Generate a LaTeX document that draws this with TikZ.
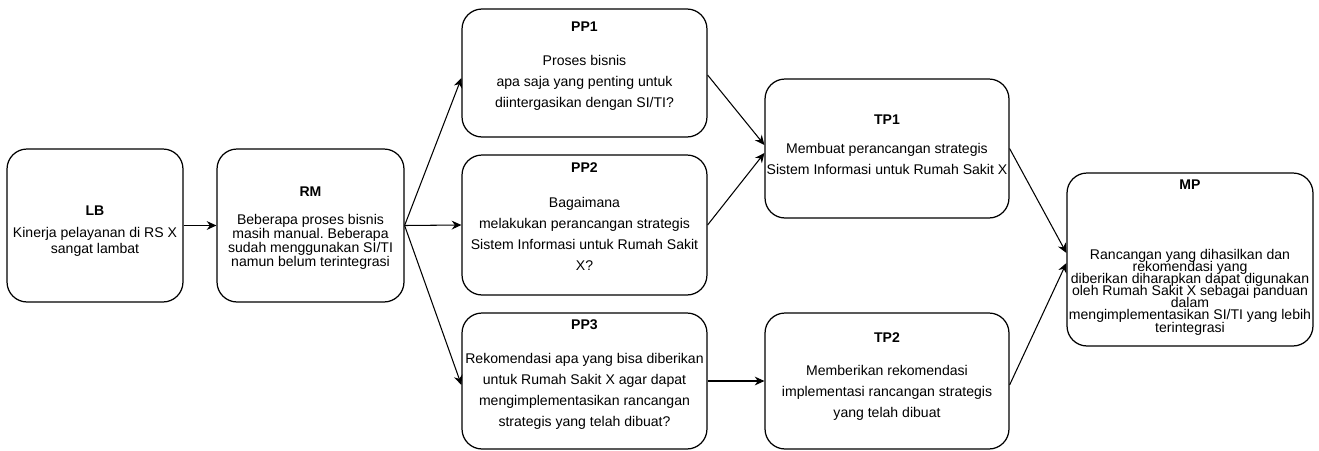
\documentclass[tikz,border=0pt]{standalone}
\usepackage{fontspec}
\setmainfont{Liberation Sans}
\usetikzlibrary{arrows.meta}
\frenchspacing
\setlength{\lineskiplimit}{-20pt}

\begin{document}
\begin{tikzpicture}[x=0.02cm,y=-0.02cm,
        box/.style={draw, line width=0.7pt, rounded corners=0.4cm, inner sep=0pt},
        title/.style={font=\fontsize{8}{9.6}\selectfont\bfseries},
        txt/.style={align=center, inner sep=0pt, font=\fontsize{8}{11.9}\selectfont},
        arr/.style={-{Stealth[length=5.5pt,width=5pt]}, line width=0.6pt}]
        \useasboundingbox (0,0) rectangle (1319,450);

        % Draw the boxes
        \node[box, minimum width=3.52cm, minimum height=3.06cm] (lb) at (95,225.5) {};
        \node[box, minimum width=3.74cm, minimum height=3.06cm] (rm) at (310.5,225.5) {};
        \node[box, minimum width=4.9cm, minimum height=2.56cm] (pp1) at (584.5,73) {};
        \node[box, minimum width=4.9cm, minimum height=2.8cm] (pp2) at (584.5,225) {};
        \node[box, minimum width=4.9cm, minimum height=2.72cm] (pp3) at (584.5,381) {};
        \node[box, minimum width=4.88cm, minimum height=2.78cm] (tp1) at (887,148.5) {};
        \node[box, minimum width=4.88cm, minimum height=2.72cm] (tp2) at (887,381) {};
        \node[box, minimum width=4.92cm, minimum height=3.46cm] (mp) at (1190,259.5) {};

        % Titles
        \node[title] (lbT) at (95,211) {LB};
        \node[title] (rmT) at (310.5,192) {RM};
        \node[title] (pp1T) at (584.5,27) {PP1};
        \node[title] (pp2T) at (584.5,168) {PP2};
        \node[title] (pp3T) at (584.5,325) {PP3};
        \node[title] (tp1T) at (887,120) {TP1};
        \node[title] (tp2T) at (887,338) {TP2};
        \node[title] (mpT) at (1190,185) {MP};

        % Texts inside the boxes
        \node[txt, font=\fontsize{8}{8.9}\selectfont] (lbX) at (95,242) {Kinerja pelayanan di RS X\\sangat lambat};
        \node[txt, font=\fontsize{8}{8.1}\selectfont] (rmX) at (310.5,242) {Beberapa proses bisnis\\masih manual. Beberapa\\sudah menggunakan SI/TI\\namun belum terintegrasi};
        \node[txt] (pp1X) at (584.5,82.5) {Proses bisnis\\apa saja yang penting untuk\\diintergasikan dengan SI/TI?};
        \node[txt] (pp2X) at (584.5,234) {Bagaimana\\melakukan perancangan strategis\\Sistem Informasi untuk Rumah Sakit\\X?};
        \node[txt] (pp3X) at (584.5,391.5) {Rekomendasi apa yang bisa diberikan\\untuk Rumah Sakit X agar dapat\\mengimplementasikan rancangan\\strategis yang telah dibuat?};
        \node[txt] (tp1X) at (887,159) {Membuat perancangan strategis\\Sistem Informasi untuk Rumah Sakit X};
        \node[txt] (tp2X) at (887,393) {Memberikan rekomendasi\\implementasi rancangan strategis\\yang telah dibuat};
        \node[txt, font=\fontsize{8}{6.9}\selectfont] (mpX) at (1190,292) {Rancangan yang dihasilkan dan\\rekomendasi yang\\diberikan diharapkan dapat digunakan\\oleh Rumah Sakit X sebagai panduan\\dalam\\mengimplementasikan SI/TI yang lebih\\terintegrasi};

        % Draw the arrows
        \draw[arr] (lb) -- (rm);
        \draw[arr] (rm.east) -- ([yshift=-0.1cm]pp1.west);
        \draw[arr] (rm.east) -- (pp2.west);
        \draw[arr] (rm.east) -- ([yshift=-0.08cm]pp3.west);
        \draw[arr] ([yshift=-0.04cm]pp1.east) -- ([yshift=0.07cm]tp1.west);
        \draw[arr] (pp2.east) -- ([yshift=-0.09cm]tp1.west);
        \draw[arr] (pp3.east) -- (tp2.west);
        \draw[arr] (tp1.east) -- ([yshift=0.13cm]mp.west);
        \draw[arr] ([yshift=-0.08cm]tp2.east) -- ([yshift=-0.07cm]mp.west);
\end{tikzpicture}
\end{document}
